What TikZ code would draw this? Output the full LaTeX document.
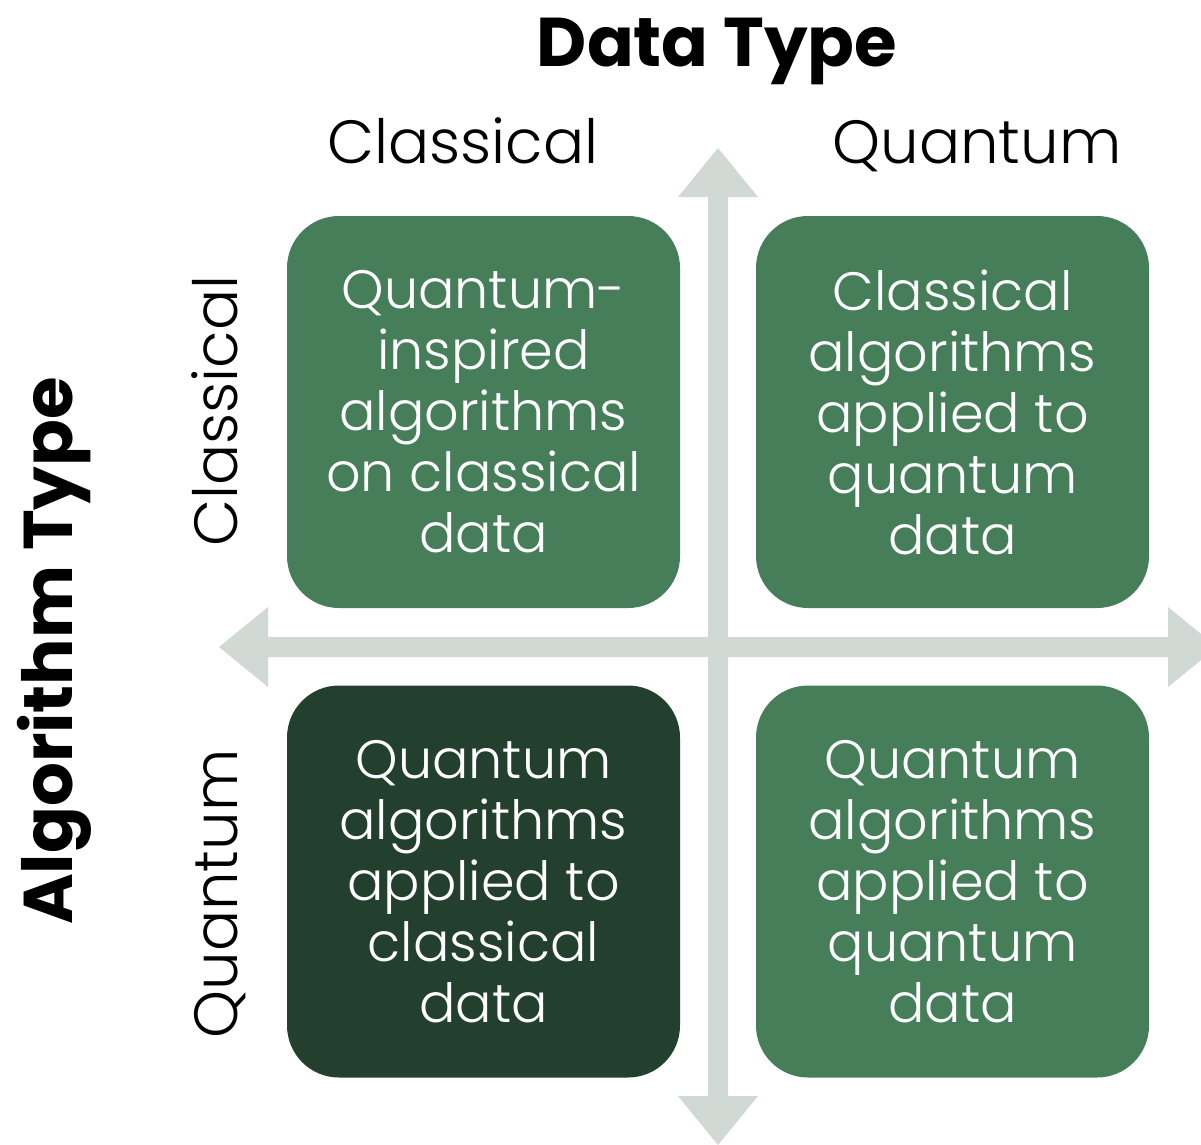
\documentclass[tikz,border=0pt]{standalone}
\usepackage{fontspec}
\setmainfont{Poppins}[UprightFont=* Light, BoldFont=* Bold]
\definecolor{cellgreen}{HTML}{477E5A}
\definecolor{celldark}{HTML}{233F2D}
\definecolor{axisgrey}{HTML}{D0D9D3}

\begin{document}
\begin{tikzpicture}[x=1pt,y=-1pt]
    \useasboundingbox (0,0) rectangle (1201,1144);
    %% axes
    \fill [axisgrey] (708,197) -- (678,197) -- (718,148) -- (758,197) -- (728,197)
        -- (728,1096) -- (758,1096) -- (718,1145) -- (678,1096) -- (708,1096) -- cycle;
    \fill [axisgrey] (268,637) -- (268,607) -- (219,647) -- (268,687) -- (268,657)
        -- (1168,657) -- (1168,687) -- (1217,647) -- (1168,607) -- (1168,637) -- cycle;
    %% the four quadrants
    \tikzstyle {cell} = [shape=rectangle, fill=cellgreen, text=white, rounded corners=52pt, minimum width=393pt, minimum height=392pt, align=center, font=\fontsize{54}{61}\selectfont];
    \node (cc) [cell] at (483.5,412) {Quantum-\\inspired\\algorithms\\on classical\\data};
    \node (cq) [cell] at (952.5,412) {Classical\\algorithms\\applied to\\quantum\\data};
    \node (qc) [cell, fill=celldark] at (483.5,881.5) {Quantum\\algorithms\\applied to\\classical\\data};
    \node (qq) [cell] at (952.5,881.5) {Quantum\\algorithms\\applied to\\quantum\\data};
    %% data type header
    \tikzstyle {title} = [anchor=base, font=\bfseries\fontsize{69}{69}\selectfont];
    \tikzstyle {label} = [anchor=base, font=\fontsize{61}{61}\selectfont];
    \node (dtype) [title] at (717,66) {Data Type};
    \node (dclass) [label] at (463,163) {Classical};
    \node (dquant) [label] at (977,163) {Quantum};
    %% algorithm type header
    \node (atype) [title, rotate=90] at (72,651) {Algorithm Type};
    \node (aclass) [label, rotate=90] at (237,411) {Classical};
    \node (aquant) [label, rotate=90] at (237,894) {Quantum};
\end{tikzpicture}
\end{document}
